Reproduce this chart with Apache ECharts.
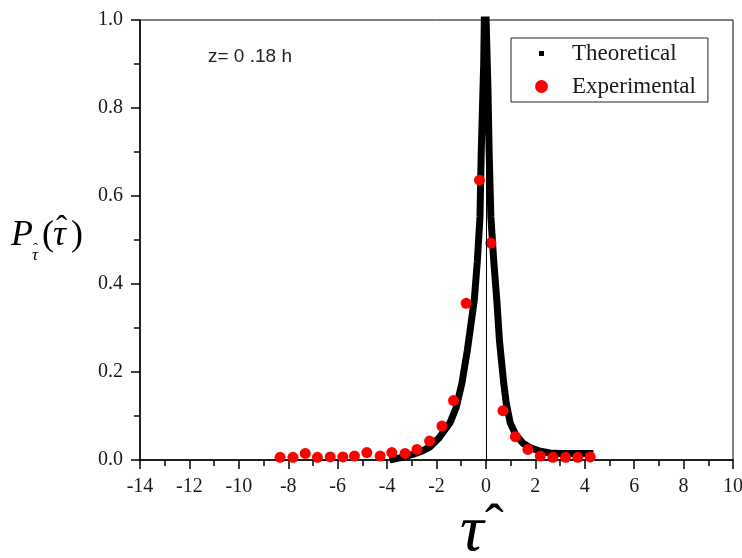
<!DOCTYPE html>
<html>
<head>
<meta charset="utf-8">
<title>P(tau) distribution</title>
<script src="https://cdn.jsdelivr.net/npm/echarts@6/dist/echarts.min.js"></script>
<style>
  html, body { margin: 0; padding: 0; background: #fff; }
  #chart { width: 742px; height: 558px; }
</style>
</head>
<body>
<div id="chart"></div>
<script>
// experimental points
var expX = [-8.33, -7.81, -7.31, -6.82, -6.30, -5.79, -5.32, -4.82, -4.28, -3.81, -3.27, -2.79, -2.28, -1.78, -1.31, -0.80, -0.26, 0.20, 0.69, 1.19, 1.70, 2.20, 2.71, 3.22, 3.72, 4.22];
var expY = [0.006, 0.006, 0.015, 0.006, 0.007, 0.007, 0.009, 0.017, 0.009, 0.017, 0.015, 0.024, 0.043, 0.077, 0.135, 0.356, 0.636, 0.493, 0.112, 0.053, 0.024, 0.009, 0.006, 0.006, 0.006, 0.007];

// theoretical curve
var theoX = [-3.9, -3.5, -3.0, -2.6, -2.26, -1.9, -1.45, -1.2, -0.97, -0.75, -0.47, -0.35, -0.24, -0.19, -0.09, -0.04, 0.04, 0.08, 0.13, 0.2, 0.32, 0.44, 0.55, 0.72, 0.82, 0.98, 1.2, 1.5, 1.8, 2.2, 2.6, 3.0, 4.35];
var theoY = [0.0, 0.005, 0.012, 0.02, 0.03, 0.05, 0.085, 0.12, 0.175, 0.25, 0.364, 0.45, 0.553, 0.70, 0.9, 1.1, 1.1, 0.85, 0.70, 0.553, 0.45, 0.364, 0.27, 0.175, 0.13, 0.085, 0.058, 0.038, 0.028, 0.02, 0.016, 0.015, 0.015];

var xTicks = { min: -14, max: 10, step: 2 };
var yTicks = { min: 0, max: 1, step: 0.2 };

var serif = 'Liberation Serif';
var txt = '#1a1a1a';

var expData = expX.map(function (x, i) { return [x, expY[i]]; });
var theoData = theoX.map(function (x, i) { return [x, theoY[i]]; });

var myChart = echarts.init(document.getElementById('chart'));
var option = {
    animation: false,
    backgroundColor: '#fff',
    grid: {
        left: 140, right: 9, top: 20, bottom: 98,
        outerBoundsMode: 'none',
        containLabel: false,
        show: true, borderColor: '#000', borderWidth: 1
    },
    legend: {
        left: 511, top: 38,
        orient: 'vertical',
        backgroundColor: '#fff',
        borderColor: '#222', borderWidth: 1,
        padding: [4, 12, 4, 20],
        itemGap: 10,
        itemWidth: 13, itemHeight: 13,
        formatter: function (name) { return '{a|' + name + '}'; },
        textStyle: {
            rich: {
                a: { fontFamily: serif, fontSize: 23, color: txt, lineHeight: 24, padding: [0, 0, 0, 19] }
            }
        },
        data: [
            { name: 'Theoretical', icon: 'rect', itemStyle: { color: '#000', borderColor: '#fff', borderWidth: 8 }, lineStyle: { width: 0, opacity: 0 } },
            { name: 'Experimental', icon: 'circle', itemStyle: { color: '#ff0000', opacity: 1 } }
        ]
    },
    xAxis: {
        type: 'value',
        min: xTicks.min, max: xTicks.max, interval: xTicks.step,
        axisLine: { onZero: false, lineStyle: { color: '#000', width: 1.5 } },
        axisTick: { inside: false, length: 9, lineStyle: { color: '#000', width: 1.5 } },
        minorTick: { show: true, splitNumber: 2, length: 6, lineStyle: { color: '#000', width: 1.5 } },
        axisLabel: { margin: 17, fontFamily: serif, fontSize: 20, color: txt },
        splitLine: { show: false }
    },
    yAxis: {
        type: 'value',
        min: yTicks.min, max: yTicks.max, interval: yTicks.step,
        axisLine: { show: true, onZero: false, lineStyle: { color: '#000', width: 1.5 } },
        axisTick: { show: true, inside: false, length: 9, lineStyle: { color: '#000', width: 1.5 } },
        minorTick: { show: true, splitNumber: 2, length: 6, lineStyle: { color: '#000', width: 1.5 } },
        axisLabel: {
            margin: 17, fontFamily: serif, fontSize: 20, color: txt,
            formatter: function (v) { return v.toFixed(1); }
        },
        splitLine: { show: false }
    },
    graphic: [
        { type: 'text', x: 208, y: 57, style: { text: 'z= 0 .18 h', font: '19px "Liberation Sans"', fill: '#222', verticalAlign: 'middle' } },
        // y axis title  P_τ̂(τ̂)
        { type: 'text', x: 11, y: 236, style: { text: 'P', font: 'italic 36px "Liberation Serif"', fill: '#000', verticalAlign: 'middle' } },
        { type: 'text', x: 32, y: 256, style: { text: 'τ', font: 'italic 17px "Liberation Serif"', fill: '#000', verticalAlign: 'middle' } },
        { type: 'text', x: 33, y: 249, style: { text: 'ˆ', font: '15px "Liberation Serif"', fill: '#000', verticalAlign: 'middle' } },
        { type: 'text', x: 42, y: 236, style: { text: '(', font: '36px "Liberation Serif"', fill: '#000', verticalAlign: 'middle' } },
        { type: 'text', x: 53, y: 236, style: { text: 'τ', font: 'italic 36px "Liberation Serif"', fill: '#000', verticalAlign: 'middle' } },
        { type: 'text', x: 56, y: 230, style: { text: 'ˆ', font: '34px "Liberation Serif"', fill: '#000', verticalAlign: 'middle' } },
        { type: 'text', x: 71, y: 236, style: { text: ')', font: '36px "Liberation Serif"', fill: '#000', verticalAlign: 'middle' } },
        // x axis title  τ̂
        { type: 'text', x: 460, y: 533, style: { text: 'τ', font: 'italic 66px "Liberation Serif"', fill: '#000', verticalAlign: 'middle' } },
        { type: 'text', x: 485, y: 528, style: { text: 'ˆ', font: '56px "Liberation Serif"', fill: '#000', verticalAlign: 'middle' } }
    ],
    series: [
        {
            name: 'Theoretical',
            type: 'line',
            data: theoData,
            showSymbol: false,
            symbol: 'rect',
            color: '#000',
            lineStyle: { color: '#000', width: 7 },
            clip: true,
            z: 2,
            markLine: {
                silent: true,
                symbol: 'none',
                label: { show: false },
                lineStyle: { color: '#000', width: 1, type: 'solid' },
                data: [{ xAxis: 0 }]
            }
        },
        {
            name: 'Experimental',
            type: 'scatter',
            data: expData,
            symbol: 'circle',
            symbolSize: 11,
            itemStyle: { color: '#ff0000', opacity: 1 },
            z: 3
        }
    ]
};
myChart.setOption(option);
</script>
</body>
</html>
